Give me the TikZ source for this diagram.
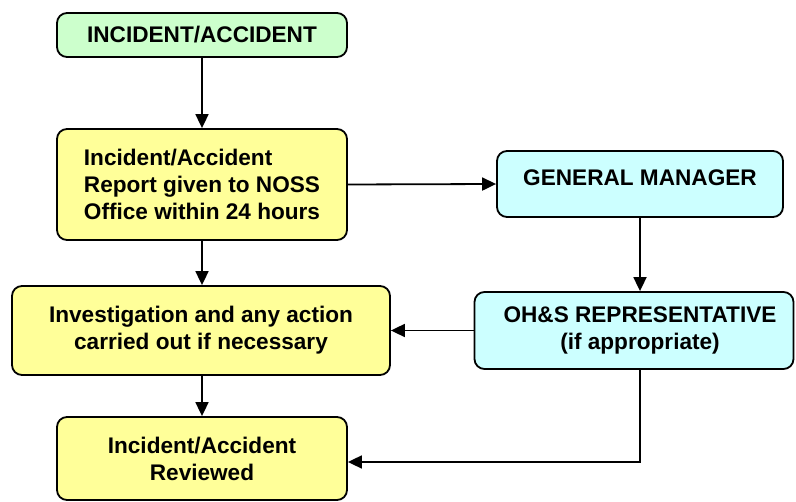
\documentclass[tikz,border=0pt]{standalone}
\usepackage{fontspec}
\setmainfont{Liberation Sans}
\usetikzlibrary{arrows.meta,calc}
\definecolor{boxgreen}{HTML}{CCFFCC}
\definecolor{boxyellow}{HTML}{FFFF99}
\definecolor{boxcyan}{HTML}{CCFFFF}
\tikzset{
  boxfont/.style={font=\bfseries\fontsize{22.6}{27}\selectfont},
  flowbox/.style={draw=black, line width=1.8pt, rounded corners=10pt, inner sep=0pt,
    boxfont, align=center},
  conn/.style={line width=1.8pt, -{Triangle[length=14pt,width=13pt]}},
}
\begin{document}
\begin{tikzpicture}[x=1pt,y=1pt]
\useasboundingbox (0,0) rectangle (796,-502);
\node[flowbox, fill=boxgreen, minimum width=290pt, minimum height=44pt] (inc) at (202,-35) {INCIDENT/ACCIDENT};
\node[flowbox, fill=boxyellow, minimum width=290pt, minimum height=111pt, align=left] (rep) at (202,-184.5) {Incident/Accident\\Report given to NOSS\\Office within 24 hours};
\node[flowbox, fill=boxcyan, minimum width=286pt, minimum height=66pt,
  label={[boxfont, yshift=6pt]center:GENERAL MANAGER}] (gm) at (640,-184) {};
\node[flowbox, fill=boxyellow, minimum width=378pt, minimum height=89pt] (inv) at (201,-330.5) {Investigation and any action\\carried out if necessary};
\node[flowbox, fill=boxcyan, minimum width=319pt, minimum height=77pt,
  label={[boxfont, align=center, xshift=6pt]center:OH\&S REPRESENTATIVE\\(if appropriate)}] (oh) at (634,-330.5) {};
\node[flowbox, fill=boxyellow, minimum width=290pt, minimum height=83pt] (rev) at (202,-458.5) {Incident/Accident\\Reviewed};
\draw[conn] (inc.south) -- (inc.south |- rep.north);
\draw[conn] (rep.east) -- (gm.west);
\draw[conn] (gm.south) -- (gm.south |- oh.north);
\draw[conn] (oh.west) -- (inv.east);
\draw[conn] (rep.south) -- (rep.south |- inv.north);
\draw[conn] (inv.south -| rev.north) -- (rev.north);
\draw[conn] (oh.south -| gm.south) |- ($(rev.east)+(0,-3.5)$);
\end{tikzpicture}
\end{document}
